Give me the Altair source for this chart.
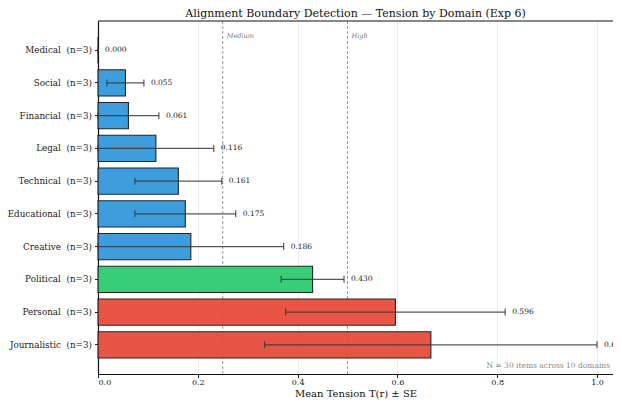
import altair as alt
import pandas as pd

domains = ["Medical", "Social", "Financial", "Legal", "Technical",
           "Educational", "Creative", "Political", "Personal", "Journalistic"]
counts = [3, 3, 3, 3, 3, 3, 3, 3, 3, 3]
means = [0.000, 0.055, 0.061, 0.116, 0.161, 0.175, 0.186, 0.430, 0.596, 0.667]
ses = [0.000, 0.037, 0.061, 0.116, 0.087, 0.101, 0.186, 0.063, 0.220, 0.333]
thresholds = [0.25, 0.50]
threshold_names = ["Medium", "High"]
x_ticks = [0.0, 0.2, 0.4, 0.6, 0.8, 1.0]
note = "N = 30 items across 10 domains"


def tier(m):
    if m < 0.25:
        return "low"
    if m < 0.5:
        return "medium"
    return "high"


labels = [f"{d} \u00a0(n={n})" for d, n in zip(domains, counts)]
df = pd.DataFrame({
    "label": labels,
    "mean": means,
    "se": ses,
    "lower": [max(0.0, m - s) for m, s in zip(means, ses)],
    "upper": [m + s for m, s in zip(means, ses)],
    "txt": [f"{m:.3f}" for m in means],
    "tier": [tier(m) for m in means],
})
thr = pd.DataFrame({"x": thresholds, "name": threshold_names})
note_df = pd.DataFrame({"t": [note]})

W, H = 515, 353
FONT = "DejaVu Serif"

xscale = alt.Scale(domain=[0, 1.032], nice=False, zero=False)
yscale = alt.Scale(domain=labels, paddingInner=0.2, paddingOuter=0.49)

base = alt.Chart(df)

bars = base.mark_bar(stroke="#1a1a1a", strokeWidth=1.1, opacity=0.95).encode(
    x=alt.X("mean:Q", scale=xscale,
            axis=alt.Axis(values=x_ticks, format=".1f", title="Mean Tension T(r) ± SE",
                          grid=True)),
    y=alt.Y("label:N", scale=yscale, sort=labels, axis=alt.Axis(title=None)),
    color=alt.Color("tier:N", legend=None,
                    scale=alt.Scale(domain=["low", "medium", "high"],
                                    range=["#3498db", "#2ecc71", "#e74c3c"])),
)

err = base.mark_rule(color="#3a3a3a", strokeWidth=1.2, opacity=0.85).encode(
    x=alt.X("lower:Q", scale=xscale), x2="upper:Q",
    y=alt.Y("label:N", scale=yscale, sort=labels),
)
cap_hi = base.mark_tick(color="#3a3a3a", thickness=1.2, size=7, opacity=0.85).encode(
    x=alt.X("upper:Q", scale=xscale),
    y=alt.Y("label:N", scale=yscale, sort=labels),
)
cap_lo = base.mark_tick(color="#3a3a3a", thickness=1.2, size=7, opacity=0.85).encode(
    x=alt.X("lower:Q", scale=xscale),
    y=alt.Y("label:N", scale=yscale, sort=labels),
)
vals = base.mark_text(align="left", baseline="middle", dx=7, fontSize=7.5,
                      font=FONT, color="#222222", clip=True).encode(
    x=alt.X("upper:Q", scale=xscale),
    y=alt.Y("label:N", scale=yscale, sort=labels),
    text="txt:N",
)

thr_rules = alt.Chart(thr).mark_rule(color="#999999", strokeWidth=1,
                                     strokeDash=[3, 2]).encode(
    x=alt.X("x:Q", scale=xscale),
)
thr_text = alt.Chart(thr).mark_text(align="left", baseline="middle", dx=4,
                                    fontSize=6.5, fontStyle="italic",
                                    font=FONT, color="#777777").encode(
    x=alt.X("x:Q", scale=xscale),
    y=alt.value(15),
    text="name:N",
)
note_text = alt.Chart(note_df).mark_text(align="right", baseline="bottom",
                                         fontSize=7.5, font=FONT,
                                         color="#888888").encode(
    x=alt.value(W - 3),
    y=alt.value(H - 4),
    text="t:N",
)
top_spine = alt.Chart(note_df).mark_rule(color="#111111", strokeWidth=1.2).encode(
    x=alt.value(0), x2=alt.value(W), y=alt.value(0),
)

chart = alt.layer(
    thr_rules, bars, err, cap_hi, cap_lo, vals, thr_text, note_text, top_spine
).properties(
    width=W, height=H,
    title=alt.TitleParams("Alignment Boundary Detection — Tension by Domain  (Exp 6)",
                          font=FONT, fontSize=11, fontWeight="normal",
                          color="#111111", anchor="middle", offset=1),
    autosize=alt.AutoSizeParams(type="none"),
    padding={"left": 90, "top": 13, "right": 0, "bottom": 26},
).configure_view(
    strokeWidth=0,
).configure_axis(
    labelFont=FONT, titleFont=FONT, labelColor="#222222", titleColor="#111111",
    domain=True, domainColor="#111111", domainWidth=1.2,
    tickColor="#222222", tickSize=3.5, gridColor="#e6e6e6",
    gridWidth=0.8,
).configure_axisX(
    labelFontSize=8, titleFontSize=10, titleFontWeight="normal",
    labelPadding=1, titlePadding=2,
).configure_axisY(
    labelFontSize=8.8, labelPadding=3, grid=False,
)

chart.save("out.html", embed_options={"renderer": "svg", "actions": False})
